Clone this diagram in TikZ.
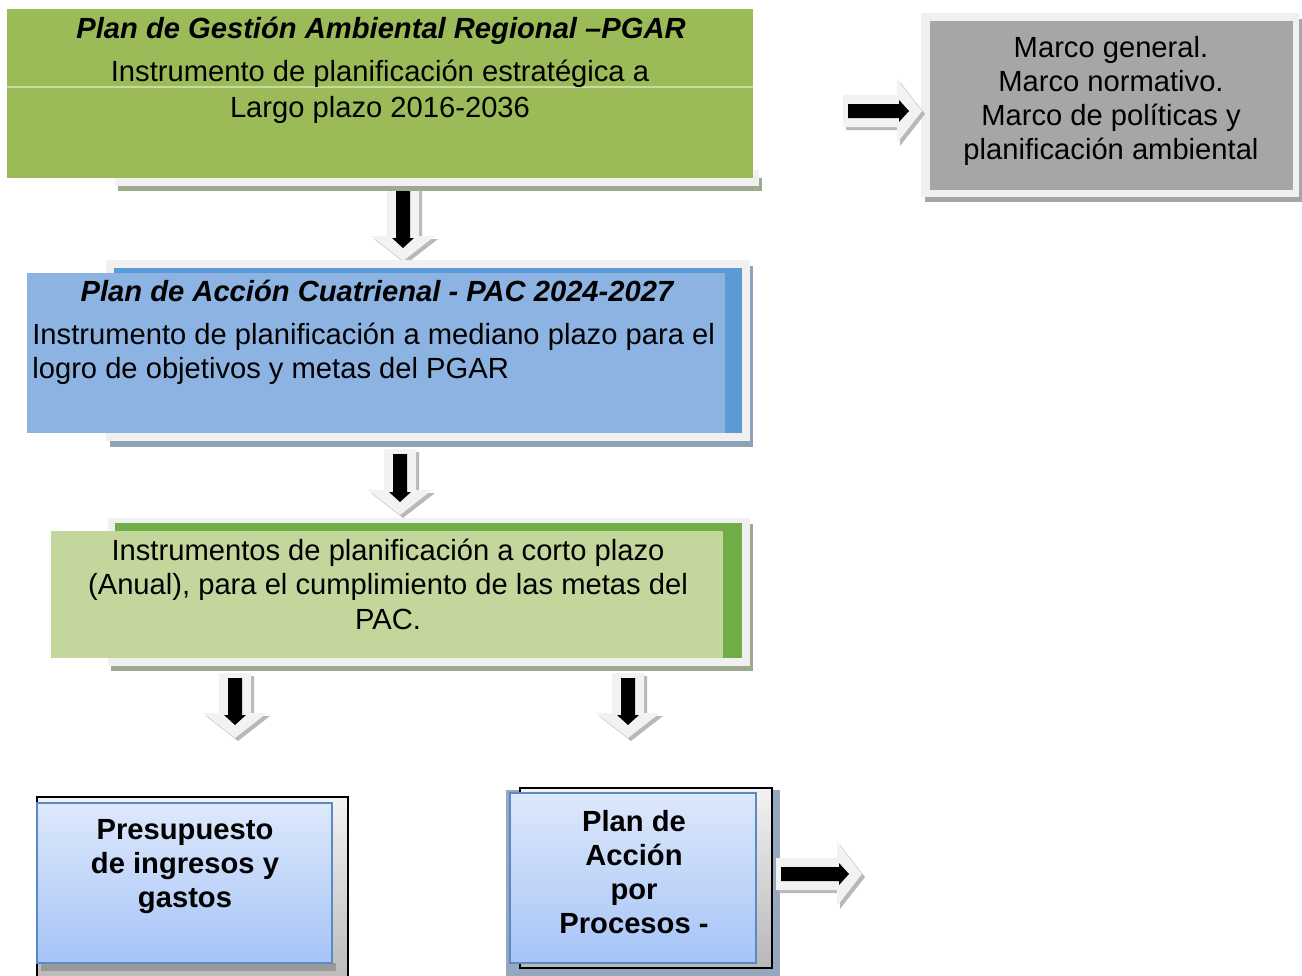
\documentclass[tikz,border=0pt]{standalone}
\usepackage{fontspec}
\setmainfont{Liberation Sans}
\usetikzlibrary{positioning,calc,fit}

\definecolor{pgargreen}{HTML}{9BBB59}
\definecolor{pacblue}{HTML}{8DB3E2}
\definecolor{pacdark}{HTML}{5B9BD5}
\definecolor{shortgreen}{HTML}{C3D69B}
\definecolor{shortdark}{HTML}{70AD47}
\definecolor{panelgray}{HTML}{F0F0F0}
\definecolor{boxgray}{HTML}{A6A6A6}
\definecolor{topblue}{HTML}{DDE8FB}
\definecolor{botblue}{HTML}{A6C4F7}
\definecolor{edgeblue}{HTML}{5A8AC6}
\definecolor{greenshadow}{HTML}{9DA990}
\definecolor{blueshadow}{HTML}{8FA3B8}
\definecolor{backblue}{HTML}{95A8BE}

\tikzset{
	txt/.style={inner sep=0pt,align=center,font=\fontsize{16.6}{19.4}\selectfont},
	ttl/.style={txt,font=\fontsize{16.6}{19.4}\selectfont\bfseries\itshape},
	bld/.style={txt,font=\fontsize{16.6}{19.4}\selectfont\bfseries},
	boxfit/.style={inner sep=0pt,draw=none},
	panel/.style={fill=panelgray},
	arrowbody/.style={fill=black!5},
	arrowshadow/.style={fill=black!28},
	bluebox/.style={boxfit,draw=edgeblue,line width=1.2pt,top color=topblue,bottom color=botblue},
	framebox/.style={boxfit,draw=black,line width=1pt,top color=black!5,bottom color=black!28},
}

\newcommand{\blockarrow}[3]{%
	\begin{scope}[shift={(#1)}]
		\fill[arrowshadow,shift={(3,3)},rotate=#2] (-16,0) -- (16,0) -- (16,#3-25) -- (32,#3-25) -- (0,#3) -- (-32,#3-25) -- (-16,#3-25) -- cycle;
		\fill[arrowbody,rotate=#2] (-16,0) -- (16,0) -- (16,#3-25) -- (32,#3-25) -- (0,#3) -- (-32,#3-25) -- (-16,#3-25) -- cycle;
		\fill[black,rotate=#2] (-7,5) -- (7,5) -- (7,#3-23) -- (11,#3-23) -- (0,#3-13) -- (-11,#3-23) -- (-7,#3-23) -- cycle;
	\end{scope}}

\begin{document}
\begin{tikzpicture}[x=0.02cm,y=-0.02cm]
		\clip (0,0) rectangle (1302,975);
		
		\coordinate (a1) at (403,184);
		\coordinate (a2) at (400,449);
		\coordinate (a3) at (235,673);
		\coordinate (a4) at (628,673);
		\coordinate (a5) at (843,111);
		\coordinate (a6) at (776,874);
		
		\blockarrow{a1}{0}{77}
		\blockarrow{a2}{0}{66}
		\blockarrow{a3}{0}{65}
		\blockarrow{a4}{0}{65}
		
		\fill[greenshadow] (118,178) rectangle (762,191);
		\fill[panel] (115,170) rectangle (759,186);
		\node[boxfit,fill=pgargreen,fit={(7,9) (753,178)}] (pgar) {};
		\draw[pgargreen!55!white,line width=0.6pt] (7,87) -- (753,87);
		\node[ttl,anchor=north] (pgart) at (381,17) {Plan de Gestión Ambiental Regional –PGAR};
		\node[txt,anchor=north,font=\fontsize{16.6}{20.4}\selectfont] (pgarb) at (380,60) {Instrumento de planificación estratégica a\\Largo plazo 2016-2036};
		
		\fill[blueshadow] (110,266) rectangle (753,447);
		\fill[panel] (106,260) rectangle (750,441);
		\fill[pacdark] (114,268) rectangle (742,433);
		\node[boxfit,fill=pacblue,fit={(27,273) (725,433)}] (pac) {};
		\node[ttl,anchor=north] (pact) at (377,280) {Plan de Acción Cuatrienal - PAC 2024-2027};
		\node[txt,align=left,anchor=north west] (pacb) at (32,323) {Instrumento de planificación a mediano plazo para el\\logro de objetivos y metas del PGAR};
		
		\fill[greenshadow] (111,524) rectangle (753,671);
		\fill[panel] (108,518) rectangle (750,666);
		\fill[shortdark] (115,523) rectangle (742,658);
		\node[boxfit,fill=shortgreen,fit={(51,531) (723,658)}] (corto) {};
		\node[txt,anchor=north] (cortot) at (388,539) {Instrumentos de planificación a corto plazo\\(Anual), para el cumplimiento de las metas del\\PAC.};
		
		\fill[black!35] (925,19) rectangle (1302,202);
		\fill[panel] (921,13) rectangle (1299,197);
		\node[boxfit,fill=boxgray,fit={(930,21) (1293,190)}] (marco) {};
		\node[txt,anchor=north] (marcot) at (1111,36) {Marco general.\\Marco normativo.\\Marco de políticas y\\planificación ambiental};
		
		\node[framebox,fit={(37,797) (348,990)}] (presuf) {};
		\fill[black!40] (41,963) rectangle (336,971);
		\node[bluebox,fit={(37,803) (332,963)}] (presu) {};
		\node[bld,anchor=north] (presut) at (185,819) {Presupuesto\\de ingresos y\\gastos};
		
		\fill[backblue] (506,790) rectangle (780,990);
		\node[framebox,fit={(520,788) (772,968)}] (pppf) {};
		\node[bluebox,fit={(510,793) (756,963)}] (ppp) {};
		\node[bld,anchor=north] (pppt) at (634,810) {Plan de\\Acción\\por\\Procesos -};
		
		\blockarrow{a5}{90}{79}
		\blockarrow{a6}{90}{86}
	\end{tikzpicture}
\end{document}
